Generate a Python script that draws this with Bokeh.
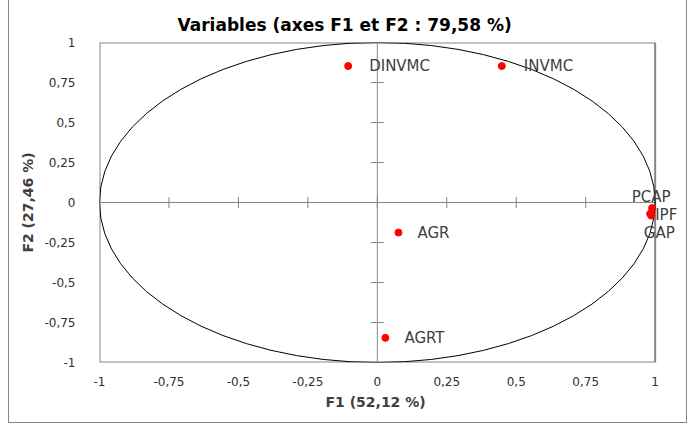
from bokeh.plotting import figure
from bokeh.models import Range1d, FixedTicker, Label, ColumnDataSource, Title
from bokeh.embed import file_html
from bokeh.resources import INLINE

# ---- data ----
variables = ["DINVMC", "INVMC", "AGR", "AGRT", "PCAP", "IPF", "GAP"]
f1 = [-0.105, 0.448, 0.076, 0.029, 0.989, 0.982, 0.986]
f2 = [0.853, 0.853, -0.188, -0.846, -0.035, -0.070, -0.082]
tick_values = [-1, -0.75, -0.5, -0.25, 0, 0.25, 0.5, 0.75, 1]
tick_labels = ["-1", "-0,75", "-0,5", "-0,25", "0", "0,25", "0,5", "0,75", "1"]
title_text = "Variables (axes F1 et F2 : 79,58 %)"
x_title = "F1 (52,12 %)"
y_title = "F2 (27,46 %)"

# label placement (style): x_offset, y_offset, align
label_place = {
    "DINVMC": (21, 0, "left"),
    "INVMC": (22, 0, "left"),
    "AGR": (19, 0, "left"),
    "AGRT": (19, 0, "left"),
    "PCAP": (-1, 11, "center"),
    "IPF": (5, -1, "left"),
    "GAP": (8, -17, "center"),
}

FONT = "DejaVu Sans"
GRAY = "#868686"
TXT = "#404040"

# the frame extends a little to the right of x = 1 so the right-hand labels are not clipped
p = figure(width=679, height=423, output_backend="svg", toolbar_location=None,
           x_range=Range1d(-1, 1.12), y_range=Range1d(-1, 1),
           min_border_left=90, min_border_right=0, min_border_top=42, min_border_bottom=61)
p.styles = {"margin-left": "8px", "border-left": "1px solid " + GRAY,
            "border-right": "1px solid " + GRAY, "border-bottom": "1px solid " + GRAY,
            "box-sizing": "border-box"}

p.grid.visible = False
p.outline_line_color = None
p.background_fill_color = "white"
p.border_fill_color = "white"

p.title.text = title_text
p.title.align = "left"
p.title.offset = 78
p.title.text_font = FONT
p.title.text_font_size = "17px"
p.title.text_font_style = "bold"
p.title.text_color = "black"
p.title.standoff = 16

for ax in (p.xaxis[0], p.yaxis[0]):
    ax.ticker = FixedTicker(ticks=tick_values)
    ax.major_label_overrides = {v: t for v, t in zip(tick_values, tick_labels)}
    ax.axis_line_color = None
    ax.major_tick_line_color = None
    ax.minor_tick_line_color = None
    ax.major_label_text_font = FONT
    ax.major_label_text_font_size = "12px"
    ax.major_label_text_color = "#303030"
    ax.axis_label_text_font = FONT
    ax.axis_label_text_font_size = "14px"
    ax.axis_label_text_font_style = "bold"
    ax.axis_label_text_color = TXT

p.yaxis.axis_label = y_title
p.xaxis.major_label_standoff = 8
p.yaxis.major_label_standoff = 18
p.yaxis.axis_label_standoff = 5

xlab = Title(text=x_title, align="left", offset=226, text_font=FONT, text_font_size="14px",
             text_font_style="bold", text_color=TXT, standoff=6)
p.add_layout(xlab, "below")

# plot-area border (from -1 to 1 on both axes)
p.quad(left=[-1], right=[1], bottom=[-1], top=[1], fill_color=None,
       line_color=GRAY, line_width=2)

# central axes with tick marks
p.segment(x0=[-1, 0], y0=[0, -1], x1=[1, 0], y1=[0, 1], line_color=GRAY, line_width=1)
inner = [t for t in tick_values if t not in (-1, 1)]
p.scatter(x=inner, y=[0] * len(inner), marker="dash", angle=1.5708, size=11,
          line_color=GRAY, line_width=1)
p.scatter(x=[0] * len(inner), y=inner, marker="dash", size=13,
          line_color=GRAY, line_width=1)

# correlation circle
p.ellipse(x=0, y=0, width=2, height=2, fill_color=None, line_color="black", line_width=1)

# points
src = ColumnDataSource(dict(x=f1, y=f2, name=variables))
p.scatter("x", "y", source=src, size=7, fill_color="red", line_color="red")

for n, x, y in zip(variables, f1, f2):
    dx, dy, al = label_place[n]
    p.add_layout(Label(x=x, y=y, text=n, x_offset=dx, y_offset=dy, text_align=al,
                       text_baseline="middle", text_font=FONT, text_font_size="15px",
                       text_color=TXT))

open("out.html", "w").write(file_html(p, INLINE))
